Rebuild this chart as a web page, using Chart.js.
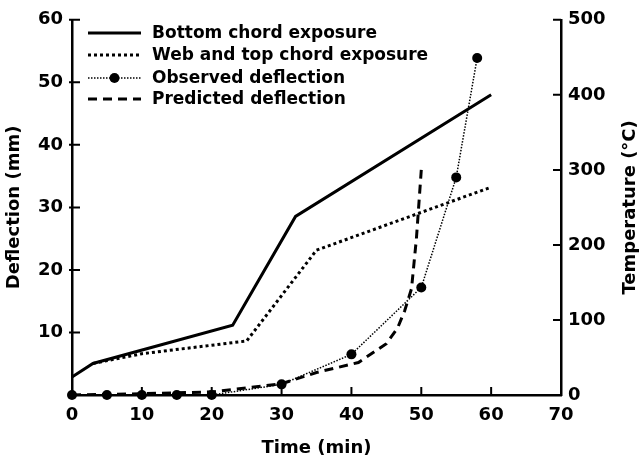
<!DOCTYPE html>
<html>
<head>
<meta charset="utf-8">
<script src="https://cdn.jsdelivr.net/npm/chart.js@4"></script>
<style>
  html, body { margin: 0; padding: 0; background: #fff; }
  #wrap { width: 643px; height: 461px; }
</style>
</head>
<body>
<div id="wrap"><canvas id="myChart" width="643" height="461"></canvas></div>
<script>
// temperature curves (right axis, °C)
var bottomTime = [0, 3, 23, 32, 60];
var bottomTemp = [24, 42, 93, 238, 400];
var webTime = [3, 10, 25, 35, 60];
var webTemp = [42, 55, 72, 193, 277];
// deflection (left axis, mm)
var obsTime = [0, 5, 10, 15, 20, 30, 40, 50, 55, 58];
var obsDefl = [0, 0, 0, 0, 0, 1.7, 6.5, 17.2, 34.8, 53.9];
var predTime = [0, 10, 20, 30, 35, 41, 45, 46.6, 47.6, 48.6, 49.3, 50];
var predDefl = [0, 0.2, 0.5, 1.8, 3.6, 5.2, 8.2, 10.7, 13.4, 17, 25, 36];

var labels = ["Bottom chord exposure", "Web and top chord exposure", "Observed deflection", "Predicted deflection"];
var rightTitle = "Temperature (°C)";

function pts(xs, ys) {
    return xs.map(function (x, i) { return { x: x, y: ys[i] }; });
}

var FONT = "'DejaVu Sans', Arial, sans-serif";

// ticks pointing into the plot
var innerTicks = {
    id: 'innerTicks',
    afterDraw: function (chart) {
        var c = chart.ctx, a = chart.chartArea, len = 8;
        c.save();
        c.strokeStyle = '#000';
        c.lineWidth = 2;
        c.beginPath();
        chart.scales.y.ticks.forEach(function (t) {
            var p = chart.scales.y.getPixelForValue(t.value);
            c.moveTo(a.left - 3, p); c.lineTo(a.left + len, p);
        });
        chart.scales.yT.ticks.forEach(function (t) {
            var p = chart.scales.yT.getPixelForValue(t.value);
            c.moveTo(a.right - len, p); c.lineTo(a.right, p);
        });
        chart.scales.x.ticks.forEach(function (t) {
            var p = chart.scales.x.getPixelForValue(t.value);
            c.moveTo(p, a.bottom); c.lineTo(p, a.bottom - len);
        });
        c.stroke();

        // right axis title, reading upward like the left one
        c.font = 'bold 18px ' + FONT;
        c.fillStyle = '#000';
        c.textAlign = 'center';
        c.textBaseline = 'middle';
        c.translate(630, (a.top + a.bottom) / 2);
        c.rotate(-Math.PI / 2);
        c.fillText(rightTitle, 0, 0);
        c.restore();
    }
};

// legend drawn in the top left of the plot
var boxLegend = {
    id: 'boxLegend',
    afterDraw: function (chart) {
        var c = chart.ctx, a = chart.chartArea;
        var x0 = a.left + 16, x1 = a.left + 69, tx = a.left + 80;
        var rows = [33, 55, 78, 99];
        c.save();
        c.font = 'bold 17px ' + FONT;
        c.textBaseline = 'middle';
        c.fillStyle = '#000';
        chart.data.datasets.forEach(function (ds, i) {
            var y = rows[i];
            c.strokeStyle = '#000';
            c.lineWidth = ds.borderWidth;
            c.setLineDash(ds.borderDash || []);
            c.beginPath(); c.moveTo(x0, y); c.lineTo(x1, y); c.stroke();
            c.setLineDash([]);
            if (ds.pointRadius > 0) {
                c.beginPath(); c.arc((x0 + x1) / 2, y, ds.pointRadius, 0, Math.PI * 2); c.fill();
            }
            c.fillText(ds.label, tx, y + 1);
        });
        c.restore();
    }
};

var tickFont = { family: FONT, size: 18, weight: 'bold' };

var ctx = document.getElementById('myChart').getContext('2d');
var myChart = new Chart(ctx, {
    type: 'line',
    data: {
        datasets: [{
            label: labels[0],
            data: pts(bottomTime, bottomTemp),
            yAxisID: 'yT',
            borderColor: '#000',
            borderWidth: 3,
            pointRadius: 0
        }, {
            label: labels[1],
            data: pts(webTime, webTemp),
            yAxisID: 'yT',
            borderColor: '#000',
            borderWidth: 3,
            borderDash: [3, 3],
            pointRadius: 0
        }, {
            label: labels[2],
            data: pts(obsTime, obsDefl),
            yAxisID: 'y',
            borderColor: '#000',
            backgroundColor: '#000',
            borderWidth: 1.5,
            borderDash: [1.5, 1.5],
            pointRadius: 5,
            pointBorderWidth: 0,
            clip: false
        }, {
            label: labels[3],
            data: pts(predTime, predDefl),
            yAxisID: 'y',
            borderColor: '#000',
            borderWidth: 3,
            borderDash: [9, 6],
            pointRadius: 0
        }]
    },
    options: {
        responsive: false,
        animation: false,
        layout: { padding: { top: 15 } },
        plugins: {
            legend: { display: false },
            tooltip: { enabled: false }
        },
        scales: {
            x: {
                type: 'linear',
                min: 0, max: 70,
                ticks: { stepSize: 10, color: '#000', padding: 10, font: tickFont },
                grid: { display: true, drawOnChartArea: false, drawTicks: false, color: 'rgba(0,0,0,0)' },
                border: { display: true, color: '#000', width: 2.5 },
                title: { display: true, text: 'Time (min)', color: '#000', padding: { top: 6, bottom: 2 }, font: tickFont },
                afterFit: function (s) { s.height = 66; }
            },
            y: {
                position: 'left',
                min: 0, max: 60,
                ticks: {
                    stepSize: 10, color: '#000', padding: 9, font: tickFont,
                    callback: function (v) { return v === 0 ? '' : v; }
                },
                grid: { display: true, drawOnChartArea: false, drawTicks: false, color: 'rgba(0,0,0,0)' },
                border: { display: true, color: '#000', width: 2.5 },
                title: { display: true, text: 'Deflection (mm)', color: '#000', padding: { top: 4, bottom: 4 }, font: tickFont },
                afterFit: function (s) { s.width = 72; }
            },
            yT: {
                position: 'right',
                min: 0, max: 500,
                ticks: { stepSize: 100, color: '#000', padding: 7, font: tickFont },
                grid: { display: true, drawOnChartArea: false, drawTicks: false, color: 'rgba(0,0,0,0)' },
                border: { display: true, color: '#000', width: 2.5 },
                title: { display: false },
                afterFit: function (s) { s.width = 82; }
            }
        }
    },
    plugins: [innerTicks, boxLegend]
});
</script>
</body>
</html>
